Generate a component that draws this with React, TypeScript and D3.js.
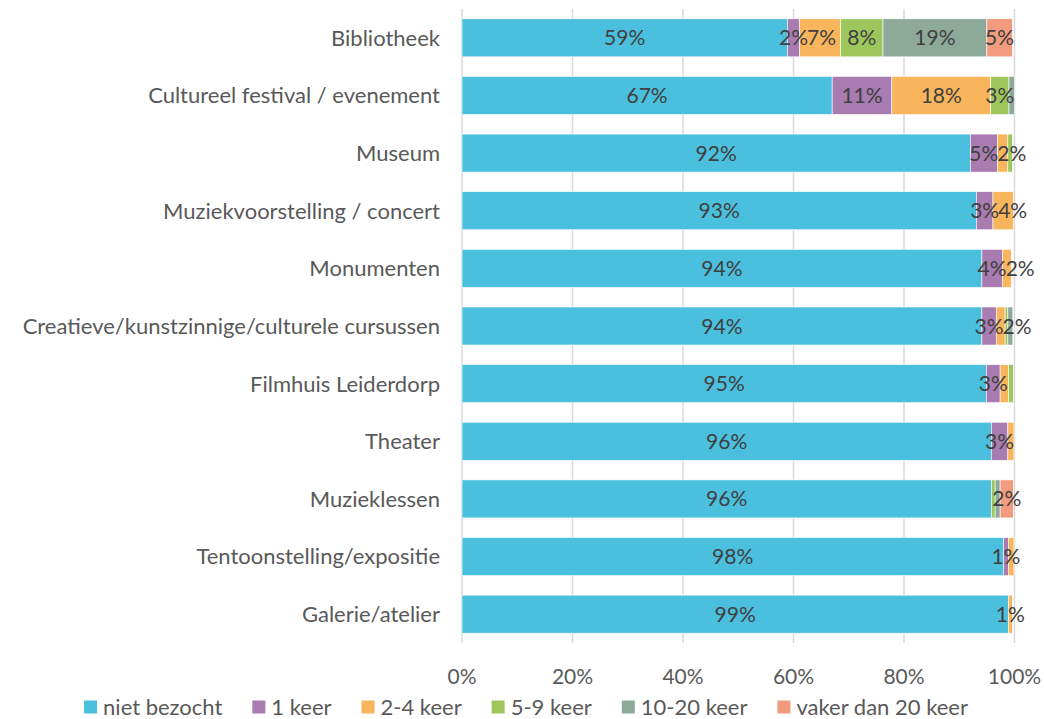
import * as d3 from "d3";
import React from "react";

// categorieën (van boven naar beneden)
const categories = [
  "Bibliotheek",
  "Cultureel festival / evenement",
  "Museum",
  "Muziekvoorstelling / concert",
  "Monumenten",
  "Creatieve/kunstzinnige/culturele cursussen",
  "Filmhuis Leiderdorp",
  "Theater",
  "Muzieklessen",
  "Tentoonstelling/expositie",
  "Galerie/atelier",
];

const seriesNames = [
  "niet bezocht",
  "1 keer",
  "2-4 keer",
  "5-9 keer",
  "10-20 keer",
  "vaker dan 20 keer",
];

const nietBezocht = [58.9, 67.0, 92.0, 93.1, 94.1, 94.1, 94.9, 95.8, 95.8, 98.0, 98.9];
const eenKeer = [2.2, 10.8, 4.9, 3.0, 3.7, 2.6, 2.5, 3.0, 0, 0.9, 0];
const tweeTotVier = [7.4, 17.9, 1.9, 3.7, 1.6, 1.6, 1.5, 1.1, 0, 1.0, 0.7];
const vijfTotNegen = [7.7, 3.3, 0.8, 0, 0, 0.5, 0.9, 0, 0.7, 0, 0];
const tienTotTwintig = [18.8, 1.0, 0, 0, 0, 0.9, 0, 0, 0.9, 0, 0];
const vakerDan20 = [4.6, 0, 0, 0, 0, 0, 0, 0, 2.4, 0, 0];

// welke segmenten een label hebben (per reeks)
const labelNiet = [1, 1, 1, 1, 1, 1, 1, 1, 1, 1, 1];
const label1 = [1, 1, 1, 1, 1, 1, 1, 1, 0, 1, 0];
const label24 = [1, 1, 1, 1, 1, 1, 0, 0, 0, 0, 1];
const label59 = [1, 1, 0, 0, 0, 0, 0, 0, 0, 0, 0];
const label1020 = [1, 0, 0, 0, 0, 0, 0, 0, 0, 0, 0];
const labelVaker = [1, 0, 0, 0, 0, 0, 0, 0, 1, 0, 0];

const tickValues = [0, 20, 40, 60, 80, 100];

const colors = ["#4bbfde", "#a87bb1", "#f8b55c", "#9dc75c", "#8ca99a", "#f39b7e"];

const seriesValues = [nietBezocht, eenKeer, tweeTotVier, vijfTotNegen, tienTotTwintig, vakerDan20];
const seriesLabels = [labelNiet, label1, label24, label59, label1020, labelVaker];

const FONT = "Lato, 'Open Sans', sans-serif";

export default function App() {
  const ref = React.useRef<SVGSVGElement>(null);

  React.useEffect(() => {
    document.body.style.margin = "0";
    if (!ref.current) return;
    const svg = d3.select(ref.current);
    svg.selectAll("*").remove();

    const height = 719;
    const margin = { top: 9, right: 30, bottom: 76, left: 462 };

    const x = d3.scaleLinear().domain([0, 100]).range([margin.left, 1014.5]);
    const y = d3
      .scaleBand()
      .domain(categories)
      .range([margin.top, height - margin.bottom])
      .paddingInner(0.34)
      .paddingOuter(0.17);

    // rasterlijnen
    svg
      .append("g")
      .selectAll("line")
      .data(tickValues)
      .enter()
      .append("line")
      .attr("x1", (d) => x(d))
      .attr("x2", (d) => x(d))
      .attr("y1", margin.top)
      .attr("y2", height - margin.bottom)
      .attr("stroke", "#d9d9d9")
      .attr("stroke-width", 1.5);

    // stapels
    const rows = categories.map((c, i) => {
      let x0 = 0;
      return seriesValues.map((vals, s) => {
        const seg = { cat: c, s, v: vals[i], x0, x1: x0 + vals[i], show: seriesLabels[s][i] === 1 };
        x0 += vals[i];
        return seg;
      });
    });

    const bars = svg.append("g");
    rows.forEach((row) => {
      row
        .filter((d) => d.v > 0)
        .forEach((d) => {
          bars
            .append("rect")
            .attr("x", x(d.x0))
            .attr("y", y(d.cat)!)
            .attr("width", x(d.x1) - x(d.x0))
            .attr("height", y.bandwidth())
            .attr("fill", colors[d.s])
            .attr("stroke", "#ffffff")
            .attr("stroke-width", 0.6);
        });
    });

    // data labels, met verschuiving bij overlap
    const labels = svg.append("g").attr("font-family", FONT).attr("font-size", 21).attr("fill", "#404040");
    rows.forEach((row) => {
      let prevRight = -Infinity;
      row
        .filter((d) => d.show && d.v > 0)
        .forEach((d) => {
          const t = labels
            .append("text")
            .attr("y", y(d.cat)! + y.bandwidth() / 2)
            .attr("dy", "0.36em")
            .attr("text-anchor", "start")
            .text(`${Math.round(d.v)}%`);
          const w = (t.node() as SVGTextElement).getComputedTextLength();
          let left = (x(d.x0) + x(d.x1)) / 2 - w / 2;
          if (left < prevRight - 1) left = prevRight - 1;
          t.attr("x", left);
          prevRight = left + w;
        });
    });

    // categorie-as
    svg
      .append("g")
      .attr("font-family", FONT)
      .attr("font-size", 22)
      .attr("fill", "#595959")
      .selectAll("text")
      .data(categories)
      .enter()
      .append("text")
      .attr("x", margin.left - 22)
      .attr("y", (d) => y(d)! + y.bandwidth() / 2)
      .attr("dy", "0.36em")
      .attr("text-anchor", "end")
      .text((d) => d);

    // waarde-as
    svg
      .append("g")
      .attr("font-family", FONT)
      .attr("font-size", 21)
      .attr("fill", "#595959")
      .selectAll("text")
      .data(tickValues)
      .enter()
      .append("text")
      .attr("x", (d) => x(d))
      .attr("y", 676)
      .attr("dy", "0.36em")
      .attr("text-anchor", "middle")
      .text((d) => `${d}%`);

    // legenda
    const legend = svg.append("g").attr("font-family", FONT).attr("font-size", 22).attr("fill", "#595959");
    const items = seriesNames.map((name, i) => {
      const g = legend.append("g");
      g.append("rect").attr("width", 13).attr("height", 13).attr("y", -6.5).attr("fill", colors[i]);
      const t = g.append("text").attr("x", 19).attr("dy", "0.36em").text(name);
      const w = 19 + (t.node() as SVGTextElement).getComputedTextLength();
      return { g, w };
    });
    const gap = 30;
    const total = d3.sum(items, (d) => d.w) + gap * (items.length - 1);
    let lx = 526 - total / 2;
    items.forEach((it) => {
      it.g.attr("transform", `translate(${lx},707)`);
      lx += it.w + gap;
    });
  }, []);

  return <svg ref={ref} width={1044} height={719} style={{ display: "block" }} />;
}
